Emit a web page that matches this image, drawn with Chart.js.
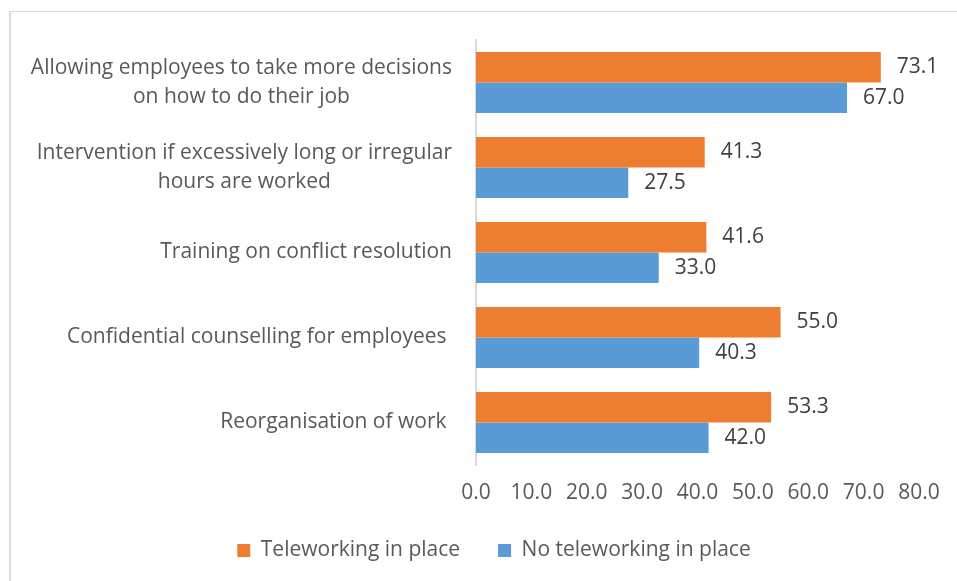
<!DOCTYPE html>
<html>
<head>
<meta charset="utf-8">
<script src="https://cdn.jsdelivr.net/npm/chart.js@4.4.1/dist/chart.umd.min.js"></script>
<style>
  html, body { margin: 0; padding: 0; background: #fff; }
  #wrap { position: relative; width: 957px; height: 581px; overflow: hidden; }
  #frame { position: absolute; left: 9px; top: 11px; right: -5px; bottom: -5px;
           border-top: 1px solid #d9d9d9; border-left: 2px solid #d9d9d9; }
  #c { position: absolute; left: 0; top: 0; }
</style>
</head>
<body>
<div id="wrap">
  <div id="frame"></div>
  <canvas id="c" width="957" height="581"></canvas>
</div>
<script>
// Measures offered by employers, by whether teleworking is in place (%)
const categories = [
  ["Allowing employees to take more decisions", "on how to do their job"],
  ["Intervention if excessively long or irregular", "hours are worked"],
  ["Training on conflict resolution"],
  ["Confidential counselling for employees "],
  ["Reorganisation of work "]
];
const teleworking = [73.1, 41.3, 41.6, 55.0, 53.3];
const noTeleworking = [67.0, 27.5, 33.0, 40.3, 42.0];
const seriesNames = ["Teleworking in place", "No teleworking in place"];

const FONT = "'Open Sans', Lato, 'DejaVu Sans', sans-serif";
const SIZE = 21;
const TEXT = "#595959";

// Category labels: block right-aligned to the axis, lines centred within the block
const categoryLabels = {
  id: "categoryLabels",
  afterDraw(chart) {
    const ctx = chart.ctx;
    const y = chart.scales.y;
    const right = y.right - 24;
    const lh = 29;
    ctx.save();
    ctx.font = SIZE + "px " + FONT;
    ctx.fillStyle = TEXT;
    ctx.textBaseline = "middle";
    ctx.textAlign = "center";
    chart.data.labels.forEach((lines, i) => {
      const w = Math.max(...lines.map(l => ctx.measureText(l).width));
      const cx = right - w / 2;
      const cy = y.getPixelForValue(i);
      const y0 = cy - (lines.length - 1) * lh / 2;
      lines.forEach((l, k) => ctx.fillText(l, cx, y0 + k * lh));
    });
    ctx.restore();
  }
};

// Value labels at the end of each bar
const valueLabels = {
  id: "valueLabels",
  afterDatasetsDraw(chart) {
    const ctx = chart.ctx;
    ctx.save();
    ctx.font = SIZE + "px " + FONT;
    ctx.fillStyle = "#404040";
    ctx.textBaseline = "middle";
    ctx.textAlign = "left";
    chart.data.datasets.forEach((ds, di) => {
      chart.getDatasetMeta(di).data.forEach((bar, i) => {
        ctx.fillText(ds.data[i].toFixed(1), bar.x + 16, bar.y);
      });
    });
    ctx.restore();
  }
};

new Chart(document.getElementById("c"), {
  type: "bar",
  data: {
    labels: categories,
    datasets: [
      { label: seriesNames[0], data: teleworking, backgroundColor: "#ED7D31" },
      { label: seriesNames[1], data: noTeleworking, backgroundColor: "#5B9BD5" }
    ]
  },
  options: {
    indexAxis: "y",
    responsive: false,
    animation: false,
    devicePixelRatio: 1,
    layout: { padding: { left: 69, right: 38, top: 40, bottom: 10 } },
    datasets: { bar: { barPercentage: 1, categoryPercentage: 0.72 } },
    scales: {
      x: {
        min: 0, max: 80,
        ticks: {
          stepSize: 10,
          color: TEXT,
          font: { family: FONT, size: SIZE },
          padding: 15,
          maxRotation: 0,
          callback: v => Number(v).toFixed(1)
        },
        grid: { display: false, drawTicks: false },
        border: { display: false },
        afterFit(scale) { scale.height = 37; }
      },
      y: {
        ticks: { display: false },
        grid: { display: false, drawTicks: false },
        border: { display: true, color: "#d9d9d9", width: 2 },
        afterFit(scale) { scale.width = 476 - 69; }
      }
    },
    plugins: {
      legend: {
        position: "bottom",
        labels: {
          color: TEXT,
          font: { family: FONT, size: SIZE },
          boxWidth: 13,
          boxHeight: 13,
          padding: 38
        }
      },
      tooltip: { enabled: false }
    }
  },
  plugins: [categoryLabels, valueLabels]
});
</script>
</body>
</html>
